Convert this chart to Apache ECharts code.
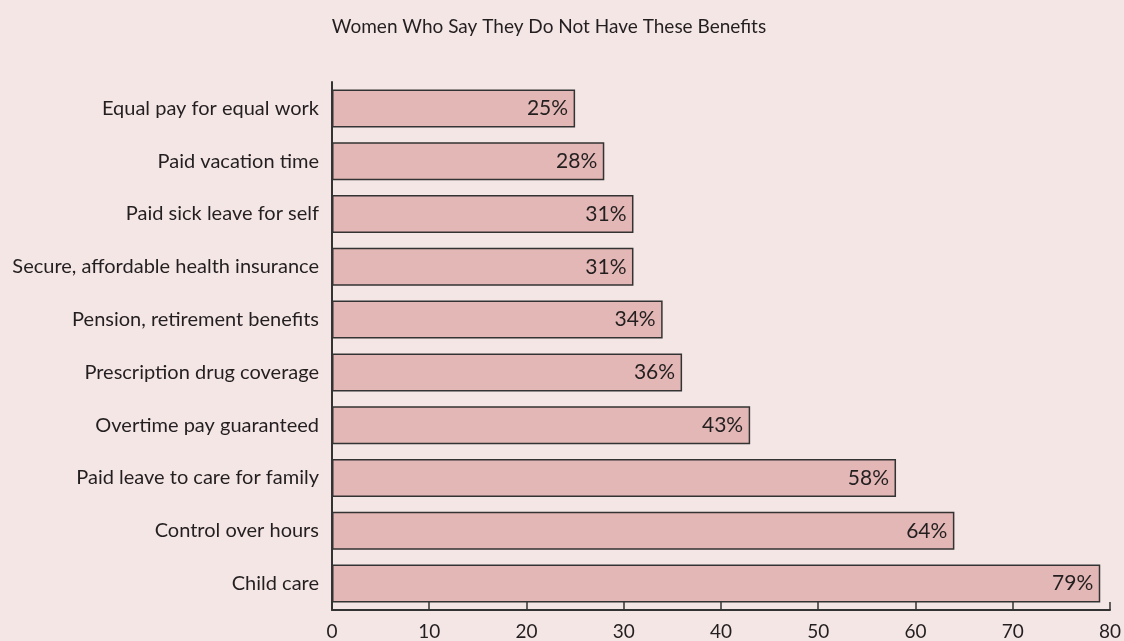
<!DOCTYPE html>
<html><head><meta charset="utf-8">
<script src="https://cdn.jsdelivr.net/npm/echarts@6/dist/echarts.min.js"></script>
<style>html,body{margin:0;padding:0;background:#f5e6e6}#c{width:1124px;height:641px}</style>
</head><body><div id="c"></div>
<script>
const categories = ["Equal pay for equal work","Paid vacation time","Paid sick leave for self","Secure, affordable health insurance","Pension, retirement benefits","Prescription drug coverage","Overtime pay guaranteed","Paid leave to care for family","Control over hours","Child care"];
const values = [25,28,31,31,34,36,43,58,64,79];
const titleText = "Women Who Say They Do Not Have These Benefits";
const FONT = "Lato, 'Open Sans', sans-serif";
const chart = echarts.init(document.getElementById('c'), null, {renderer:'canvas'});
chart.setOption({
  backgroundColor:'#f5e6e6',
  animation:false,
  title:{text:titleText,left:544,top:12,textAlign:'center',textStyle:{fontFamily:FONT,fontSize:19,fontWeight:'normal',color:'#231f20'}},
  grid:{left:332,right:11,top:82,bottom:31,containLabel:false},
  xAxis:{type:'value',min:0,max:80,interval:10,
    axisLine:{show:true,lineStyle:{color:'#333',width:2}},
    axisTick:{show:true,inside:true,length:8,lineStyle:{color:'#333',width:1.5}},
    axisLabel:{fontFamily:FONT,fontSize:19,color:'#231f20',margin:12},
    splitLine:{show:false}},
  yAxis:{type:'category',data:categories,inverse:true,
    axisLine:{show:true,lineStyle:{color:'#333',width:2}},
    axisTick:{show:false},
    axisLabel:{fontFamily:FONT,fontSize:20,color:'#231f20',margin:13}},
  series:[{type:'bar',data:values,barCategoryGap:'28%',
    itemStyle:{color:'#e3b7b5',borderColor:'#333',borderWidth:1.5},
    label:{show:true,position:'insideRight',distance:7,formatter:'{c}%',fontFamily:FONT,fontSize:21,color:'#231f20'}}]
});
</script></body></html>
